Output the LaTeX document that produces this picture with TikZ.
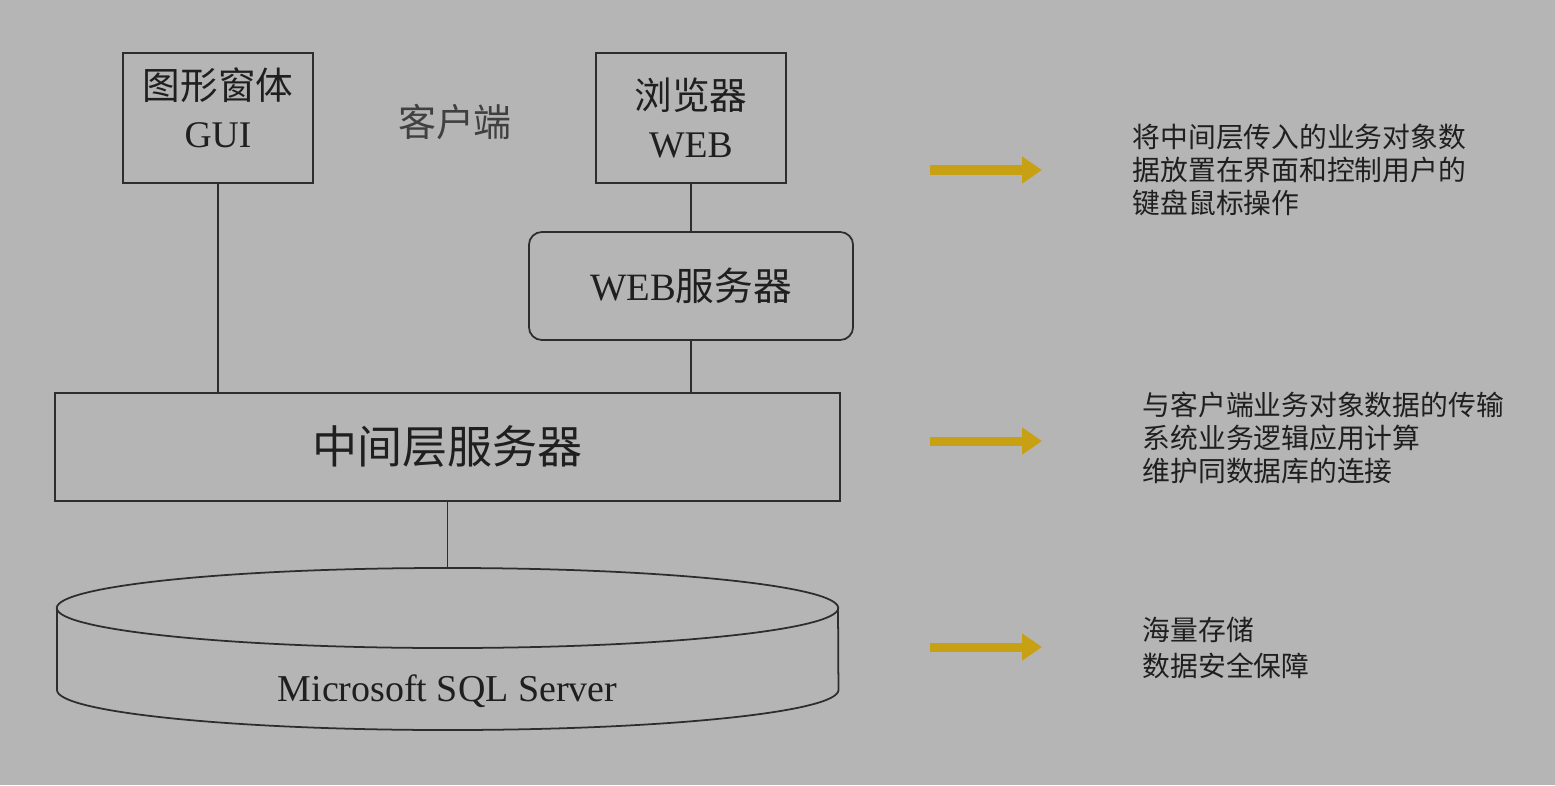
\documentclass[tikz,border=0pt]{standalone}
\usepackage{fontspec}
\setmainfont{Liberation Serif}
\newfontfamily\cjk{Noto Sans CJK SC}
\usetikzlibrary{arrows.meta,positioning}
\definecolor{bggrey}{RGB}{181,181,181}
\definecolor{inkgrey}{RGB}{45,45,45}
\definecolor{gold}{RGB}{200,160,20}
\tikzset{
  box/.style={draw=inkgrey, line width=0.5pt, text=black!88, align=center, inner sep=0pt},
  roundbox/.style={box, rounded corners=0.13cm},
  link/.style={draw=inkgrey, line width=0.5pt},
  goldarrow/.style={draw=gold, line width=0.09cm, -{Triangle[length=0.2cm,width=0.26cm]}},
  note/.style={anchor=west, align=left, text=black!88, inner sep=0pt, font=\cjk\fontsize{7.9}{9.3}\selectfont}
}
\begin{document}
\begin{tikzpicture}[x=0.01cm, y=-0.01cm]
    % Drawing background
    \fill [bggrey] (0,0) rectangle (1555,785);

    % Drawing client boxes
    \node [box, minimum width=1.9cm, minimum height=1.3cm] (gui) at (218,118) {};
    \node [text=black!88, align=center, inner sep=0pt, font=\fontsize{10.7}{13.7}\selectfont] (guitxt) at (218,108) {{\cjk 图形窗体}\\GUI};
    \node [box, minimum width=1.9cm, minimum height=1.3cm, font=\fontsize{10.7}{13.5}\selectfont] (browser) at (691,118) {{\cjk 浏览器}\\WEB};
    \node [text=black!75, inner sep=0pt, font=\cjk\fontsize{10.8}{13}\selectfont] (client) at (455,122) {客户端};

    % Drawing web server
    \node [roundbox, minimum width=3.24cm, minimum height=1.08cm, font=\fontsize{11}{13}\selectfont] (webserver) at (691,286) {WEB{\cjk 服务器}};

    % Drawing middle layer
    \node [box, minimum width=7.85cm, minimum height=1.08cm, font=\cjk\fontsize{12.8}{15}\selectfont] (middle) at (447.5,447) {中间层服务器};

    % Drawing database cylinder
    \coordinate (dbtop) at (447.5,568);
    \draw [link] (447.5,608) ellipse [x radius=3.905cm, y radius=0.4cm];
    \draw [link] (57,608) -- (57,690) arc [start angle=180, end angle=360, x radius=3.905cm, y radius=0.4cm] -- (838,608);
    \node [text=black!88, inner sep=0pt, font=\fontsize{10.8}{13}\selectfont] (db) at (447.5,691) {Microsoft SQL Server};

    % Drawing links
    \draw [link] (gui.south) -- (gui.south |- middle.north);
    \draw [link] (browser.south) -- (webserver.north);
    \draw [link] (webserver.south) -- (webserver.south |- middle.north);
    \draw [link] (middle.south) -- (dbtop);

    % Drawing arrows
    \foreach \name/\ya in {ui/170, mid/441, store/647}{
        \coordinate (from\name) at (930,\ya);
        \coordinate (to\name) at (1042,\ya);
        \draw [goldarrow] (from\name) -- (to\name);
    }

    % Marking notes
    \node [note] (noteui) at (1132,170) {将中间层传入的业务对象数\\据放置在界面和控制用户的\\键盘鼠标操作};
    \node [note] (notemid) at (1142,438) {与客户端业务对象数据的传输\\系统业务逻辑应用计算\\维护同数据库的连接};
    \node [note, font=\cjk\fontsize{7.9}{10}\selectfont] (notestore) at (1142,648) {海量存储\\数据安全保障};
\end{tikzpicture}
\end{document}
